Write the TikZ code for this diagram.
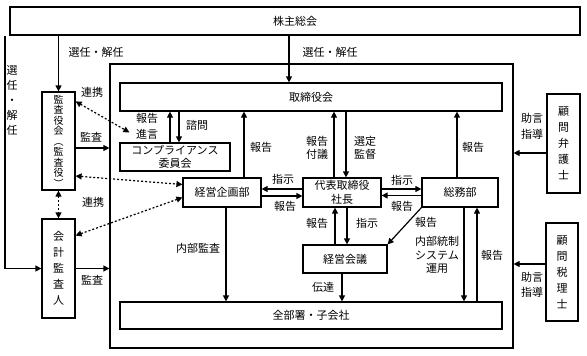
\documentclass[tikz,border=0pt]{standalone}
\usepackage{fontspec}
\setmainfont{Noto Sans CJK JP}
\usepackage{tikz}
\usetikzlibrary{arrows.meta}

\begin{document}
\begin{tikzpicture}[
    x=1pt, y=-1pt,
    block/.style={rectangle, draw, line width=1.2pt, inner sep=0pt, align=center,
                  font=\fontsize{11}{13.5}\selectfont},
    vblock/.style={block, font=\fontsize{11}{16}\selectfont},
    arrow/.style={-{Triangle[length=6pt,width=6pt]}, line width=1.2pt},
    dotarrow/.style={{Triangle[length=6pt,width=6pt]}-{Triangle[length=6pt,width=6pt]},
                     line width=1.2pt, dash pattern=on 2pt off 2pt},
    note/.style={align=center, inner sep=0pt, font=\fontsize{11}{13.5}\selectfont}
]
    \useasboundingbox (0,0) rectangle (587,356);

    % Shareholders and company frame
    \node[block, minimum width=570pt, minimum height=28pt] (sh) at (295,21) {株主総会};
    \node[block, minimum width=403pt, minimum height=284pt] (grp) at (311.5,206) {};

    % Inside the company
    \node[block, minimum width=382pt, minimum height=28pt] (board) at (311,97) {取締役会};
    \node[block, minimum width=110pt, minimum height=28pt] (comp) at (175,157) {コンプライアンス\\委員会};
    \node[block, minimum width=78pt, minimum height=29pt] (plan) at (222,192.5) {経営企画部};
    \node[block, minimum width=78pt, minimum height=29pt] (ceo) at (342,192.5) {代表取締役\\社長};
    \node[block, minimum width=76pt, minimum height=29pt] (gen) at (460,192.5) {総務部};
    \node[block, minimum width=84pt, minimum height=28pt] (mtg) at (345,259) {経営会議};
    \node[block, minimum width=382pt, minimum height=27pt] (all) at (311,315.5) {全部署・子会社};

    % Auditors
    \node[vblock, font=\fontsize{10}{10.5}\selectfont, minimum width=33pt, minimum height=98pt]
        (audit) at (58.5,141) {監\\査\\役\\会\\︵\\監\\査\\役\\︶};
    \node[vblock, minimum width=33pt, minimum height=99pt] (acct) at (58.5,268.5) {会\\計\\監\\査\\人};

    % Advisers
    \node[vblock, minimum width=33pt, minimum height=99pt] (lawyer) at (563.5,143.5) {顧\\問\\弁\\護\\士};
    \node[vblock, minimum width=32pt, minimum height=98pt] (tax) at (562,272) {顧\\問\\税\\理\\士};

    % Arrows
    \draw[arrow] (audit.north |- sh.south) -- (audit.north);
    \draw[arrow] ([xshift=-22pt]board.north |- sh.south) -- ([xshift=-22pt]board.north);
    \draw[arrow] ([xshift=-36.5pt]acct.west |- sh.south) |- (acct.west);
    \draw[arrow] ([xshift=-5pt]comp.north) -- ([xshift=-5pt]comp.north |- board.south);
    \draw[arrow] ([xshift=4pt]comp.north |- board.south) -- ([xshift=4pt]comp.north);
    \draw[arrow] ([yshift=-7pt]audit.east) -- ([yshift=-7pt]audit.east -| grp.west);
    \draw[arrow] (acct.east) -- (acct.east -| grp.west);
    \draw[arrow] ([xshift=22pt]plan.north) -- ([xshift=22pt]plan.north |- board.south);
    \draw[arrow] ([yshift=3.5pt]ceo.west) -- ([yshift=3.5pt]ceo.west -| plan.east);
    \draw[arrow] ([yshift=-3.5pt]plan.east) -- ([yshift=-3.5pt]plan.east -| ceo.west);
    \draw[arrow] ([xshift=-8pt]ceo.north) -- ([xshift=-8pt]ceo.north |- board.south);
    \draw[arrow] ([xshift=4pt]ceo.north |- board.south) -- ([xshift=4pt]ceo.north);
    \draw[arrow] ([yshift=3.5pt]ceo.east) -- ([yshift=3.5pt]ceo.east -| gen.west);
    \draw[arrow] ([yshift=-3pt]gen.west) -- ([yshift=-3pt]gen.west -| ceo.east);
    \draw[arrow] ([xshift=-3pt]gen.north) -- ([xshift=-3pt]gen.north |- board.south);
    \draw[arrow] ([xshift=-10pt]mtg.north) -- ([xshift=-10pt]mtg.north |- ceo.south);
    \draw[arrow] ([xshift=2pt]mtg.north |- ceo.south) -- ([xshift=2pt]mtg.north);
    \draw[arrow] (gen.south west) -- (mtg.north east);
    \draw[arrow] ([xshift=4pt]plan.south) -- ([xshift=4pt]plan.south |- all.north);
    \draw[arrow] ([xshift=-3pt]mtg.south) -- ([xshift=-3pt]mtg.south |- all.north);
    \draw[arrow] ([xshift=4pt]gen.south) -- ([xshift=4pt]gen.south |- all.north);
    \draw[arrow] ([xshift=17pt]gen.south |- all.north) -- ([xshift=17pt]gen.south);
    \draw[arrow] ([yshift=-9.5pt]lawyer.west) -- ([yshift=-9.5pt]lawyer.west -| grp.east);
    \draw[arrow] ([yshift=8pt]tax.west) -- ([yshift=8pt]tax.west -| grp.east);

    % Dotted links
    \draw[dotarrow] ([yshift=-10pt]audit.north east) -- ([xshift=10pt,yshift=10pt]comp.north west);
    \draw[dotarrow] ([yshift=-35pt]audit.east) -- ([yshift=8pt]plan.west);
    \draw[dotarrow] (audit.south) -- (acct.north);
    \draw[dotarrow] ([yshift=-5pt]plan.west) -- ([yshift=33pt]acct.east);

    % Labels
    \node[note] (l-sel1) at (96,52) {選任・解任};
    \node[note] (l-sel2) at (330,52) {選任・解任};
    \node[note, font=\fontsize{11}{15}\selectfont] (l-sel3) at (12,100) {選\\任\\・\\解\\任};
    \node[note] (l-link1) at (92,92) {連携};
    \node[note] (l-aud1) at (91,137) {監査};
    \node[note] (l-link2) at (93,202) {連携};
    \node[note] (l-aud2) at (92,280) {監査};
    \node[note, font=\fontsize{11}{16}\selectfont] (l-rep1) at (147,126) {報告\\進言};
    \node[note] (l-ask) at (197,125) {諮問};
    \node[note] (l-rep2) at (261,147) {報告};
    \node[note] (l-rep3) at (317,148) {報告\\付議};
    \node[note] (l-sup) at (365,148) {選定\\監督};
    \node[note] (l-rep4) at (473,147) {報告};
    \node[note] (l-ins1) at (283,179) {指示};
    \node[note] (l-rep5) at (285,206) {報告};
    \node[note] (l-ins2) at (402,180) {指示};
    \node[note] (l-rep6) at (402,206) {報告};
    \node[note] (l-rep7) at (317,223) {報告};
    \node[note] (l-ins3) at (367,223) {指示};
    \node[note] (l-rep8) at (426,222) {報告};
    \node[note] (l-int) at (198,248) {内部監査};
    \node[note] (l-sys) at (437,255) {内部統制\\システム\\運用};
    \node[note] (l-rep9) at (492,255) {報告};
    \node[note] (l-tell) at (323,287) {伝達};
    \node[note, font=\fontsize{11}{16}\selectfont] (l-adv1) at (532,126) {助言\\指導};
    \node[note, font=\fontsize{11}{15}\selectfont] (l-adv2) at (532,285) {助言\\指導};

\end{tikzpicture}
\end{document}
